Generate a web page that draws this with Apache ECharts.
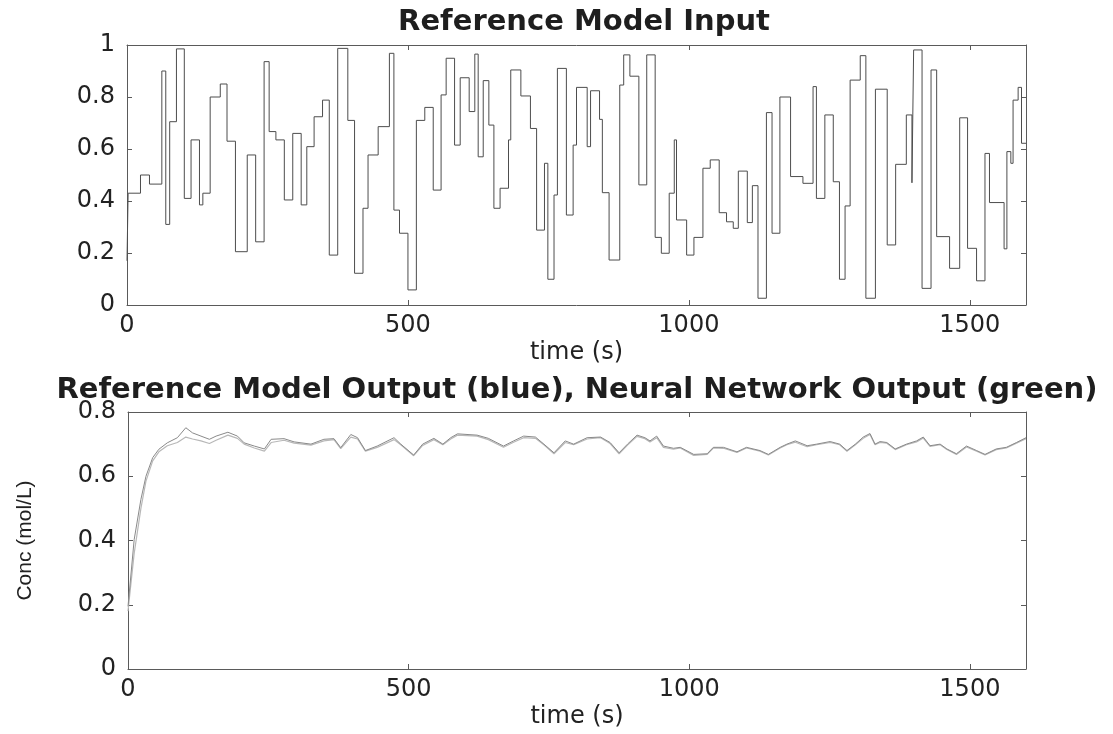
<!DOCTYPE html>
<html>
<head>
<meta charset="utf-8">
<script src="https://cdn.jsdelivr.net/npm/echarts@6/dist/echarts.min.js"></script>
<style>
  html, body { margin: 0; padding: 0; background: #fff; }
  #main { width: 1113px; height: 734px; }
</style>
</head>
<body>
<div id="main"></div>
<script>
// reference model input: step start times (s) and the level held from each
var stepTimes = [0, 2, 24, 40, 62, 69, 76, 88, 102, 114, 129, 135, 148, 166, 178, 193, 214, 229, 244, 253,
  265, 280, 295, 310, 320, 333, 348, 360, 375, 393, 405, 420, 429, 447, 467, 475, 485, 500, 515, 530,
  545, 559, 568, 583, 593, 609, 619, 625, 634, 644, 653, 664, 679, 683, 701, 718, 729, 743, 749, 760,
  766, 782, 794, 800, 819, 825, 841, 846, 858, 877, 884, 895, 911, 925, 940, 951, 965, 974, 978, 996,
  1009, 1025, 1038, 1054, 1067, 1079, 1088, 1104, 1113, 1123, 1138, 1148, 1162, 1181, 1203, 1221, 1227, 1242, 1257, 1268,
  1278, 1287, 1305, 1315, 1332, 1353, 1368, 1387, 1397, 1400, 1415, 1431, 1441, 1464, 1482, 1496, 1512, 1527, 1535, 1561,
  1566, 1573, 1577, 1586, 1592, 1600];
var stepValues = [0.17, 0.43, 0.50, 0.465, 0.90, 0.31, 0.705, 0.985, 0.41, 0.635, 0.385, 0.43, 0.80, 0.85, 0.63, 0.205, 0.577, 0.243, 0.936, 0.667,
  0.635, 0.404, 0.66, 0.385, 0.609, 0.724, 0.788, 0.192, 0.987, 0.71, 0.122, 0.372, 0.577, 0.686, 0.968, 0.365, 0.276, 0.058, 0.71, 0.76,
  0.442, 0.808, 0.949, 0.615, 0.874, 0.744, 0.965, 0.57, 0.863, 0.692, 0.372, 0.449, 0.635, 0.904, 0.804, 0.679, 0.288, 0.545, 0.099, 0.423,
  0.91, 0.346, 0.615, 0.837, 0.609, 0.824, 0.714, 0.432, 0.173, 0.846, 0.962, 0.88, 0.462, 0.962, 0.26, 0.199, 0.43, 0.635, 0.327, 0.192,
  0.26, 0.526, 0.558, 0.355, 0.32, 0.295, 0.515, 0.317, 0.459, 0.026, 0.74, 0.276, 0.80, 0.494, 0.468, 0.84, 0.41, 0.731, 0.474, 0.099,
  0.381, 0.865, 0.959, 0.026, 0.83, 0.231, 0.541, 0.731, 0.47, 0.981, 0.064, 0.904, 0.263, 0.141, 0.72, 0.218, 0.093, 0.583, 0.394, 0.216,
  0.59, 0.545, 0.788, 0.837, 0.622, 0.622];

// outputs (mol/L)
var outTimes = [0, 11, 23, 32, 44, 55, 70, 88, 103, 115, 130, 145, 157, 178, 195, 207, 225, 243, 255, 278,
  296, 326, 349, 367, 379, 397, 409, 423, 444, 474, 486, 509, 525, 545, 561, 575, 587, 622, 642, 669,
  687, 705, 726, 741, 759, 779, 794, 818, 842, 859, 875, 890, 907, 921, 930, 942, 954, 972, 984, 1008,
  1032, 1043, 1061, 1085, 1102, 1126, 1141, 1162, 1174, 1189, 1210, 1227, 1251, 1268, 1281, 1296, 1310, 1322, 1331, 1340,
  1352, 1367, 1387, 1405, 1417, 1429, 1447, 1459, 1476, 1494, 1512, 1527, 1547, 1565, 1583, 1600];
var refOut = [0.195, 0.403, 0.528, 0.60, 0.658, 0.684, 0.704, 0.72, 0.751, 0.735, 0.725, 0.715, 0.725, 0.737, 0.725, 0.704, 0.694, 0.685, 0.715, 0.717,
  0.707, 0.70, 0.715, 0.717, 0.689, 0.73, 0.72, 0.68, 0.694, 0.72, 0.70, 0.666, 0.70, 0.718, 0.70, 0.72, 0.732, 0.728, 0.718, 0.694,
  0.71, 0.725, 0.722, 0.70, 0.673, 0.71, 0.70, 0.72, 0.722, 0.705, 0.673, 0.70, 0.728, 0.72, 0.71, 0.725, 0.694, 0.687, 0.69, 0.668,
  0.67, 0.69, 0.69, 0.676, 0.69, 0.68, 0.668, 0.69, 0.70, 0.71, 0.695, 0.70, 0.708, 0.70, 0.68, 0.70, 0.722, 0.733, 0.70, 0.708,
  0.705, 0.685, 0.70, 0.71, 0.722, 0.695, 0.70, 0.685, 0.67, 0.694, 0.68, 0.668, 0.685, 0.69, 0.705, 0.72];
var nnOut = [0.18, 0.36, 0.50, 0.585, 0.648, 0.676, 0.695, 0.705, 0.722, 0.716, 0.71, 0.702, 0.712, 0.728, 0.718, 0.70, 0.688, 0.678, 0.705, 0.712,
  0.703, 0.697, 0.71, 0.714, 0.686, 0.722, 0.716, 0.678, 0.69, 0.714, 0.698, 0.664, 0.696, 0.714, 0.698, 0.716, 0.728, 0.725, 0.714, 0.69,
  0.706, 0.72, 0.718, 0.698, 0.67, 0.705, 0.698, 0.716, 0.72, 0.702, 0.67, 0.697, 0.724, 0.717, 0.707, 0.72, 0.69, 0.684, 0.688, 0.665,
  0.668, 0.688, 0.687, 0.674, 0.688, 0.678, 0.666, 0.688, 0.698, 0.706, 0.692, 0.698, 0.705, 0.698, 0.678, 0.698, 0.718, 0.73, 0.698, 0.705,
  0.703, 0.683, 0.698, 0.707, 0.719, 0.693, 0.698, 0.683, 0.668, 0.691, 0.678, 0.666, 0.683, 0.688, 0.703, 0.717];

var inputTicks = [0, 0.2, 0.4, 0.6, 0.8, 1];
var outputTicks = [0, 0.2, 0.4, 0.6, 0.8];
var timeTicks = [0, 500, 1000, 1500];

var chart = echarts.init(document.getElementById('main'), null, { renderer: 'canvas' });

function pairs(xs, ys) {
  return xs.map(function (x, i) { return [x, ys[i]]; });
}

var FONT = 'DejaVu Sans';
var boxColor = '#5a5a5a';

// one x axis, bottom with labels or top as a bare mirror (matlab box)
function timeAxis(grid, top) {
  return {
    type: 'value', gridIndex: grid, position: top ? 'top' : 'bottom',
    min: timeTicks[0], max: 1600, interval: timeTicks[1] - timeTicks[0],
    name: top ? '' : 'time (s)', nameLocation: 'middle', nameGap: 36,
    nameTextStyle: { fontFamily: FONT, fontSize: 24, color: '#222' },
    axisLine: { show: true, onZero: false, lineStyle: { color: boxColor, width: 1 } },
    axisTick: { show: true, inside: true, length: 5, lineStyle: { color: boxColor } },
    axisLabel: {
      show: !top, showMaxLabel: false, margin: 9, fontFamily: FONT, fontSize: 24, color: '#222',
      formatter: function (v) { return String(v); }
    },
    splitLine: { show: false }
  };
}

function valueAxis(grid, right, ticks, name) {
  return {
    type: 'value', gridIndex: grid, position: right ? 'right' : 'left',
    min: ticks[0], max: ticks[ticks.length - 1], interval: 0.2,
    name: name || '', nameLocation: 'middle', nameGap: 92, nameRotate: 90,
    nameTextStyle: { fontFamily: 'Liberation Sans', fontSize: 21, color: '#222' },
    axisLine: { show: true, onZero: false, lineStyle: { color: boxColor, width: 1 } },
    axisTick: { show: true, inside: true, length: 5, lineStyle: { color: boxColor } },
    axisLabel: { show: !right, margin: 12, fontFamily: FONT, fontSize: 24, color: '#222' },
    splitLine: { show: false }
  };
}

var option = {
  backgroundColor: '#fff',
  animation: false,
  title: [
    { text: 'Reference Model Input', left: 579, top: 3, textAlign: 'center',
      textStyle: { fontFamily: FONT, fontWeight: 'bold', fontSize: 29, color: '#1e1e1e' } },
    { text: 'Reference Model Output (blue), Neural Network Output (green)', left: 572, top: 371, textAlign: 'center',
      textStyle: { fontFamily: FONT, fontWeight: 'bold', fontSize: 29, color: '#1e1e1e' } }
  ],
  grid: [
    { left: 127, top: 45, width: 899, height: 260 },
    { left: 128, top: 412, width: 898, height: 257 }
  ],
  xAxis: [timeAxis(0, false), timeAxis(0, true), timeAxis(1, false), timeAxis(1, true)],
  yAxis: [
    valueAxis(0, false, inputTicks),
    valueAxis(0, true, inputTicks),
    valueAxis(1, false, outputTicks, 'Conc (mol/L)'),
    valueAxis(1, true, outputTicks)
  ],
  series: [
    {
      name: 'Reference Model Input', type: 'line', xAxisIndex: 0, yAxisIndex: 0,
      step: 'end', showSymbol: false,
      lineStyle: { color: '#4d4d4d', width: 1 },
      data: pairs(stepTimes, stepValues)
    },
    {
      name: 'Neural Network Output', type: 'line', xAxisIndex: 2, yAxisIndex: 2,
      showSymbol: false,
      lineStyle: { color: '#b8b8b8', width: 1.2 },
      data: pairs(outTimes, nnOut)
    },
    {
      name: 'Reference Model Output', type: 'line', xAxisIndex: 2, yAxisIndex: 2,
      showSymbol: false,
      lineStyle: { color: '#8a8a8a', width: 1 },
      data: pairs(outTimes, refOut)
    }
  ]
};

chart.setOption(option);
</script>
</body>
</html>
